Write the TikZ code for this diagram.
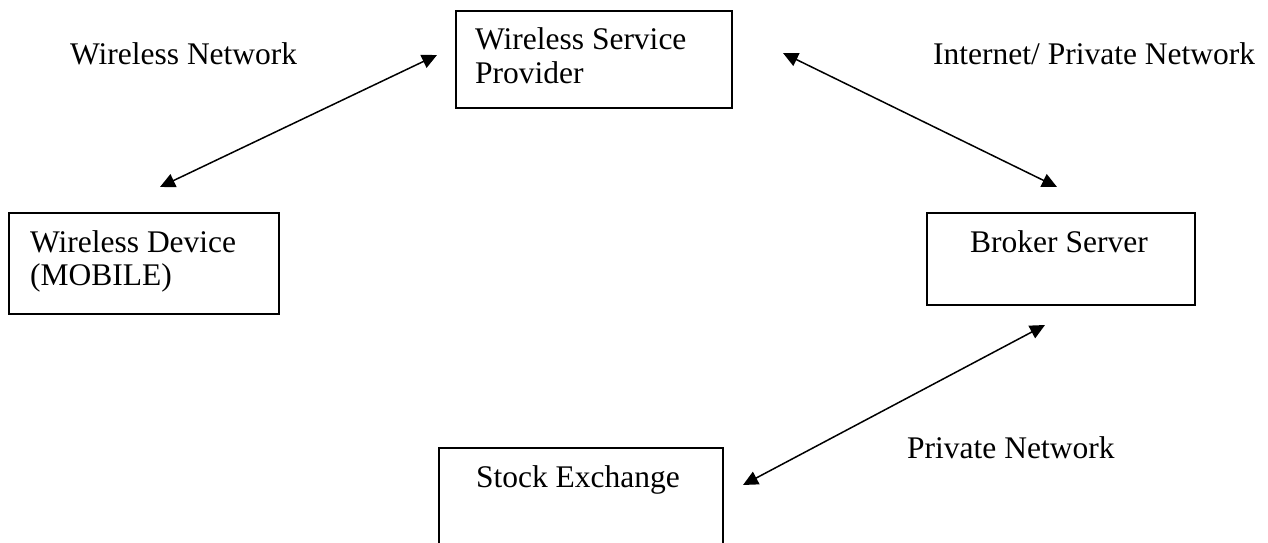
\documentclass[tikz,border=0pt]{standalone}
\usepackage{fontspec}
\setmainfont{Liberation Serif}
\usetikzlibrary{arrows.meta}
\begin{document}
\begin{tikzpicture}[x=1pt,y=-1pt,
  box/.style={draw, line width=1.6pt, inner sep=0pt, anchor=north west},
  txt/.style={inner sep=0pt, font=\fontsize{31.5}{33}\selectfont, align=left},
  link/.style={line width=1.5pt, {Triangle[length=15pt,width=14pt]}-{Triangle[length=15pt,width=14pt]}}]
\useasboundingbox (0,0) rectangle (1268,543);
% boxes
\node[box, minimum width=276pt, minimum height=97pt] (wsp) at (455,10) {};
\node[box, minimum width=270pt, minimum height=101pt] (wd) at (8,212) {};
\node[box, minimum width=268pt, minimum height=92pt] (bs) at (926,212) {};
\node[box, minimum width=284pt, minimum height=110pt] (se) at (438,447) {};
% box texts
\node[txt, anchor=base west] (wsptext) at (475,50) {Wireless Service};
\node[txt, anchor=base west] (wsptext2) at (475,83) {Provider};
\node[txt, anchor=base west] (wdtext) at (30,252) {Wireless Device};
\node[txt, anchor=base west] (wdtext2) at (30,285) {(MOBILE)};
\node[txt, anchor=base] (bstext) at (1059,252) {Broker Server};
\node[txt, anchor=base] (setext) at (578,487) {Stock Exchange};
% link labels
\node[txt, anchor=base west] (lwn) at (70,65) {Wireless Network};
\node[txt, anchor=base west] (lin) at (933,65) {Internet/ Private Network};
\node[txt, anchor=base west] (lpn) at (907,458) {Private Network};
% connector ends
\coordinate (a1s) at (160,187);
\coordinate (a1e) at (437,55);
\coordinate (a2s) at (783,53);
\coordinate (a2e) at (1057,187);
\coordinate (a3s) at (1045,325);
\coordinate (a3e) at (743,485);
\draw[link] (a1s) -- (a1e);
\draw[link] (a2s) -- (a2e);
\draw[link] (a3s) -- (a3e);
\end{tikzpicture}
\end{document}
